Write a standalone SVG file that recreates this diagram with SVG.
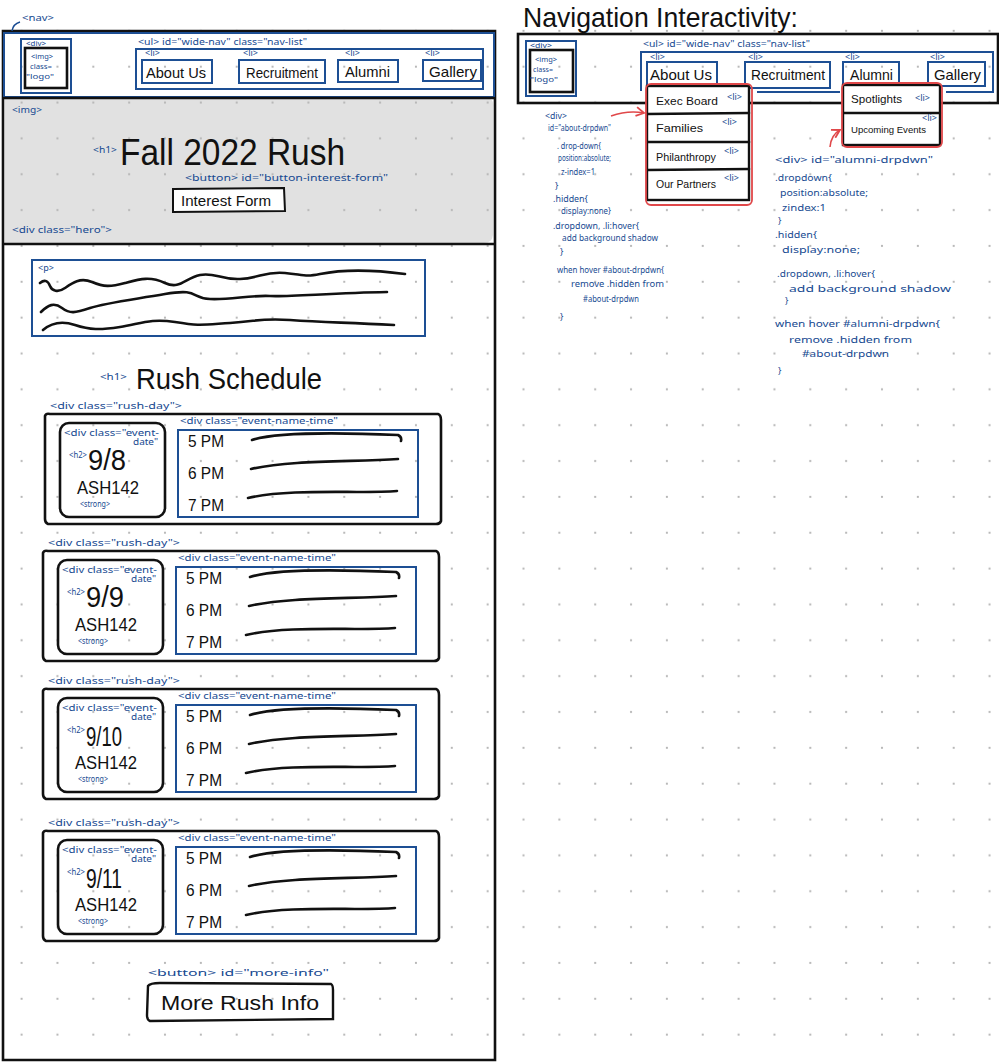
<svg xmlns="http://www.w3.org/2000/svg" width="999" height="1062" viewBox="0 0 999 1062">
<defs>
<pattern id="dots" x="3.7" y="13" width="35.85" height="35.85" patternUnits="userSpaceOnUse">
<circle cx="17.9" cy="17.9" r="1.1" fill="#b4b4b4"/>
</pattern>
<marker id="redhead" viewBox="0 0 10 10" refX="8" refY="5" markerWidth="7" markerHeight="7" orient="auto">
<path d="M1,1 L8,5 L1,9" fill="none" stroke="#e0484a" stroke-width="1.6"/>
</marker>
<style>
.bl{fill:#174a91;font-family:"Noto Sans","DejaVu Sans",sans-serif;font-size:9px;}
.lg{fill:#174a91;font-family:"Noto Sans","DejaVu Sans",sans-serif;font-size:7px;}
.hw{fill:#111;font-family:"Liberation Sans","DejaVu Sans",sans-serif;}
.bb{fill:none;stroke:#1d4f94;stroke-width:2;}
.kb{fill:none;stroke:#111;stroke-width:2.6;}
.kl{fill:none;stroke:#111;stroke-width:2.6;stroke-linecap:round;}
.rd{fill:none;stroke:#e0484a;stroke-width:1.8;}
</style>
</defs>
<rect width="999" height="1062" fill="#ffffff"/>
<path d="M5,99 L490,99 Q494,100 493,108 L493,235 Q492,243 484,243 L5,243 Z" fill="#e1e1e1"/>
<rect width="999" height="1062" fill="url(#dots)"/>

<g id="page">
<path class="kb" d="M3,31 L495,31 L495,1060 L3,1060 Z"/>
<path d="M12,31 Q13,24 20,22" fill="none" stroke="#174a91" stroke-width="1.5"/>
<text class="bl" x="22" y="21" font-size="11" textLength="32" lengthAdjust="spacingAndGlyphs">&lt;nav&gt;</text>
</g>

<g id="nav">
<rect class="bb" x="4" y="33" width="490" height="64"/>
<rect class="bb" x="21" y="39" width="50" height="54"/>
<rect class="kb" x="25" y="48" width="42" height="40"/>
<text class="lg" x="26" y="46" textLength="20" lengthAdjust="spacingAndGlyphs">&lt;div&gt;</text>
<text class="lg" x="31" y="59" textLength="22" lengthAdjust="spacingAndGlyphs">&lt;img&gt;</text>
<text class="lg" x="30" y="69" textLength="22" lengthAdjust="spacingAndGlyphs">class=</text>
<text class="lg" x="26" y="79" textLength="28" lengthAdjust="spacingAndGlyphs">"logo"</text>
<text class="bl" x="138" y="45" textLength="169" lengthAdjust="spacingAndGlyphs">&lt;ul&gt; id="wide-nav" class="nav-list"</text>
<rect class="bb" x="136" y="49" width="347" height="40"/>
<text class="bl" x="145" y="56" font-size="8">&lt;li&gt;</text>
<rect class="bb" x="142" y="60" width="70" height="23"/>
<text class="hw" x="146" y="78" font-size="15" textLength="60" lengthAdjust="spacingAndGlyphs">About Us</text>
<text class="bl" x="243" y="56" font-size="8">&lt;li&gt;</text>
<rect class="bb" x="239" y="60" width="86" height="23"/>
<text class="hw" x="246" y="78" font-size="14" textLength="72" lengthAdjust="spacingAndGlyphs">Recruitment</text>
<text class="bl" x="345" y="56" font-size="8">&lt;li&gt;</text>
<rect class="bb" x="338" y="60" width="60" height="22"/>
<text class="hw" x="345" y="77" font-size="15" textLength="45" lengthAdjust="spacingAndGlyphs">Alumni</text>
<text class="bl" x="425" y="56" font-size="8">&lt;li&gt;</text>
<rect class="bb" x="423" y="60" width="58" height="21"/>
<text class="hw" x="429" y="77" font-size="15" textLength="48" lengthAdjust="spacingAndGlyphs">Gallery</text>
</g>

<g id="hero">
<line class="kl" x1="4" y1="98" x2="494" y2="98"/>
<line class="kl" x1="4" y1="244" x2="494" y2="244"/>
<text class="bl" x="12" y="113" font-size="10" textLength="30" lengthAdjust="spacingAndGlyphs">&lt;img&gt;</text>
<text class="bl" x="93" y="153" font-size="9" textLength="24" lengthAdjust="spacingAndGlyphs">&lt;h1&gt;</text>
<text class="hw" x="120" y="165" font-size="36" textLength="225" lengthAdjust="spacingAndGlyphs">Fall 2022 Rush</text>
<text class="bl" x="185" y="181" font-size="10" textLength="203" lengthAdjust="spacingAndGlyphs">&lt;button&gt; id="button-interest-form"</text>
<path d="M173,189 L284,188 L285,211 L173,212 Z" fill="#ffffff" stroke="#111" stroke-width="2"/>
<text class="hw" x="181" y="206" font-size="14" textLength="90" lengthAdjust="spacingAndGlyphs">Interest Form</text>
<text class="bl" x="12" y="233" font-size="10" textLength="100" lengthAdjust="spacingAndGlyphs">&lt;div class="hero"&gt;</text>
</g>

<g id="paragraph">
<rect class="bb" x="32" y="260" width="393" height="76"/>
<text class="bl" x="38" y="271" font-size="9">&lt;p&gt;</text>
<path class="kl" d="M40,283 C45,279 48,281 50,286 S 58,293 65,288 S 80,277 92,282 S 110,287 125,283 S 150,276 165,283 S 185,278 200,275 S 220,280 240,279 S 265,271 285,273 S 305,277 320,274 S 360,268 405,274"/>
<path class="kl" d="M41,312 C48,305 54,302 62,308 S 75,313 90,308 S 130,300 165,294 S 190,298 210,299 S 250,295 270,296 S 330,293 387,292"/>
<path class="kl" d="M43,330 C50,324 60,320 75,325 S 100,330 120,327 S 150,318 175,322 S 200,325 230,323 S 260,318 290,320 S 330,322 394,325"/>
</g>

<g id="schedule-title">
<text class="bl" x="100" y="380" font-size="10" textLength="27" lengthAdjust="spacingAndGlyphs">&lt;h1&gt;</text>
<text class="hw" x="136" y="389" font-size="30" textLength="186" lengthAdjust="spacingAndGlyphs">Rush Schedule</text>
</g>

<g id="rush-day-1">
<text class="bl" x="50" y="409" font-size="10" textLength="132" lengthAdjust="spacingAndGlyphs">&lt;div class="rush-day"&gt;</text>
<path class="kb" d="M45,416 Q46,413 50,414 L438,414 Q441,415 441,420 L441,521 Q440,524 436,524 L48,524 Q45,523 45,519 Z"/>
<rect class="kb" x="60" y="423" width="105" height="94" rx="9"/>
<text class="bl" x="64" y="436" font-size="8.5" textLength="95" lengthAdjust="spacingAndGlyphs">&lt;div class="event-</text>
<text class="bl" x="133" y="445" font-size="8" textLength="25" lengthAdjust="spacingAndGlyphs">date"</text>
<text class="bl" x="69" y="458" font-size="8" textLength="18" lengthAdjust="spacingAndGlyphs">&lt;h2&gt;</text>
<text class="hw" x="88" y="470" font-size="29" textLength="38" lengthAdjust="spacingAndGlyphs">9/8</text>
<text class="hw" x="77" y="494" font-size="19" textLength="62" lengthAdjust="spacingAndGlyphs">ASH142</text>
<text class="bl" x="80" y="507" font-size="8" textLength="30" lengthAdjust="spacingAndGlyphs">&lt;strong&gt;</text>
<text class="bl" x="180" y="424" font-size="9" textLength="158" lengthAdjust="spacingAndGlyphs">&lt;div class="event-name-time"</text>
<rect class="bb" x="178" y="430" width="240" height="87"/>
<text class="hw" x="188" y="447" font-size="16" textLength="36" lengthAdjust="spacingAndGlyphs">5 PM</text>
<text class="hw" x="188" y="479" font-size="16" textLength="36" lengthAdjust="spacingAndGlyphs">6 PM</text>
<text class="hw" x="188" y="511" font-size="16" textLength="36" lengthAdjust="spacingAndGlyphs">7 PM</text>
<path class="kl" d="M252,440 C280,431 350,433 398,435 Q402,437 401,441"/>
<path class="kl" d="M251,469 C290,460 350,462 398,459"/>
<path class="kl" d="M248,498 C290,488 360,494 397,491"/>
</g>

<g id="rush-day-2" transform="translate(-2,137)">
<text class="bl" x="50" y="409" font-size="10" textLength="132" lengthAdjust="spacingAndGlyphs">&lt;div class="rush-day"&gt;</text>
<path class="kb" d="M45,416 Q46,413 50,414 L438,414 Q441,415 441,420 L441,521 Q440,524 436,524 L48,524 Q45,523 45,519 Z"/>
<rect class="kb" x="60" y="423" width="105" height="94" rx="9"/>
<text class="bl" x="64" y="436" font-size="8.5" textLength="95" lengthAdjust="spacingAndGlyphs">&lt;div class="event-</text>
<text class="bl" x="133" y="445" font-size="8" textLength="25" lengthAdjust="spacingAndGlyphs">date"</text>
<text class="bl" x="69" y="458" font-size="8" textLength="18" lengthAdjust="spacingAndGlyphs">&lt;h2&gt;</text>
<text class="hw" x="88" y="470" font-size="29" textLength="38" lengthAdjust="spacingAndGlyphs">9/9</text>
<text class="hw" x="77" y="494" font-size="19" textLength="62" lengthAdjust="spacingAndGlyphs">ASH142</text>
<text class="bl" x="80" y="507" font-size="8" textLength="30" lengthAdjust="spacingAndGlyphs">&lt;strong&gt;</text>
<text class="bl" x="180" y="424" font-size="9" textLength="158" lengthAdjust="spacingAndGlyphs">&lt;div class="event-name-time"</text>
<rect class="bb" x="178" y="430" width="240" height="87"/>
<text class="hw" x="188" y="447" font-size="16" textLength="36" lengthAdjust="spacingAndGlyphs">5 PM</text>
<text class="hw" x="188" y="479" font-size="16" textLength="36" lengthAdjust="spacingAndGlyphs">6 PM</text>
<text class="hw" x="188" y="511" font-size="16" textLength="36" lengthAdjust="spacingAndGlyphs">7 PM</text>
<path class="kl" d="M252,440 C280,431 350,433 398,435 Q402,437 401,441"/>
<path class="kl" d="M251,469 C290,460 350,462 398,459"/>
<path class="kl" d="M248,498 C290,488 360,494 397,491"/>
</g>

<g id="rush-day-3" transform="translate(-2,275)">
<text class="bl" x="50" y="409" font-size="10" textLength="132" lengthAdjust="spacingAndGlyphs">&lt;div class="rush-day"&gt;</text>
<path class="kb" d="M45,416 Q46,413 50,414 L438,414 Q441,415 441,420 L441,521 Q440,524 436,524 L48,524 Q45,523 45,519 Z"/>
<rect class="kb" x="60" y="423" width="105" height="94" rx="9"/>
<text class="bl" x="64" y="436" font-size="8.5" textLength="95" lengthAdjust="spacingAndGlyphs">&lt;div class="event-</text>
<text class="bl" x="133" y="445" font-size="8" textLength="25" lengthAdjust="spacingAndGlyphs">date"</text>
<text class="bl" x="69" y="458" font-size="8" textLength="18" lengthAdjust="spacingAndGlyphs">&lt;h2&gt;</text>
<text class="hw" x="88" y="471" font-size="28" textLength="36" lengthAdjust="spacingAndGlyphs">9/10</text>
<text class="hw" x="77" y="494" font-size="19" textLength="62" lengthAdjust="spacingAndGlyphs">ASH142</text>
<text class="bl" x="80" y="507" font-size="8" textLength="30" lengthAdjust="spacingAndGlyphs">&lt;strong&gt;</text>
<text class="bl" x="180" y="424" font-size="9" textLength="158" lengthAdjust="spacingAndGlyphs">&lt;div class="event-name-time"</text>
<rect class="bb" x="178" y="430" width="240" height="87"/>
<text class="hw" x="188" y="447" font-size="16" textLength="36" lengthAdjust="spacingAndGlyphs">5 PM</text>
<text class="hw" x="188" y="479" font-size="16" textLength="36" lengthAdjust="spacingAndGlyphs">6 PM</text>
<text class="hw" x="188" y="511" font-size="16" textLength="36" lengthAdjust="spacingAndGlyphs">7 PM</text>
<path class="kl" d="M252,440 C280,431 350,433 398,435 Q402,437 401,441"/>
<path class="kl" d="M251,469 C290,460 350,462 398,459"/>
<path class="kl" d="M248,498 C290,488 360,494 397,491"/>
</g>

<g id="rush-day-4" transform="translate(-2,417)">
<text class="bl" x="50" y="409" font-size="10" textLength="132" lengthAdjust="spacingAndGlyphs">&lt;div class="rush-day"&gt;</text>
<path class="kb" d="M45,416 Q46,413 50,414 L438,414 Q441,415 441,420 L441,521 Q440,524 436,524 L48,524 Q45,523 45,519 Z"/>
<rect class="kb" x="60" y="423" width="105" height="94" rx="9"/>
<text class="bl" x="64" y="436" font-size="8.5" textLength="95" lengthAdjust="spacingAndGlyphs">&lt;div class="event-</text>
<text class="bl" x="133" y="445" font-size="8" textLength="25" lengthAdjust="spacingAndGlyphs">date"</text>
<text class="bl" x="69" y="458" font-size="8" textLength="18" lengthAdjust="spacingAndGlyphs">&lt;h2&gt;</text>
<text class="hw" x="88" y="471" font-size="28" textLength="36" lengthAdjust="spacingAndGlyphs">9/11</text>
<text class="hw" x="77" y="494" font-size="19" textLength="62" lengthAdjust="spacingAndGlyphs">ASH142</text>
<text class="bl" x="80" y="507" font-size="8" textLength="30" lengthAdjust="spacingAndGlyphs">&lt;strong&gt;</text>
<text class="bl" x="180" y="424" font-size="9" textLength="158" lengthAdjust="spacingAndGlyphs">&lt;div class="event-name-time"</text>
<rect class="bb" x="178" y="430" width="240" height="87"/>
<text class="hw" x="188" y="447" font-size="16" textLength="36" lengthAdjust="spacingAndGlyphs">5 PM</text>
<text class="hw" x="188" y="479" font-size="16" textLength="36" lengthAdjust="spacingAndGlyphs">6 PM</text>
<text class="hw" x="188" y="511" font-size="16" textLength="36" lengthAdjust="spacingAndGlyphs">7 PM</text>
<path class="kl" d="M252,440 C280,431 350,433 398,435 Q402,437 401,441"/>
<path class="kl" d="M251,469 C290,460 350,462 398,459"/>
<path class="kl" d="M248,498 C290,488 360,494 397,491"/>
</g>

<g id="more-info">
<text class="bl" x="148" y="976" font-size="11" textLength="181" lengthAdjust="spacingAndGlyphs">&lt;button&gt; id="more-info"</text>
<path d="M148,986 Q150,983 160,983 L331,984 Q333,985 333,990 L333,1019 L150,1021 Q147,1020 147,1015 Z" fill="none" stroke="#111" stroke-width="2.4"/>
<text class="hw" x="161" y="1010" font-size="21" textLength="158" lengthAdjust="spacingAndGlyphs">More Rush Info</text>
</g>

<g id="nav-interactivity">
<text class="hw" x="523" y="27" font-size="28" textLength="275" lengthAdjust="spacingAndGlyphs">Navigation Interactivity:</text>
<rect class="kb" x="518" y="34" width="480" height="69"/>
<rect class="bb" x="526" y="41" width="50" height="55"/>
<rect class="kb" x="530" y="50" width="43" height="42"/>
<text class="lg" x="530" y="48" textLength="22" lengthAdjust="spacingAndGlyphs">&lt;div&gt;</text>
<text class="lg" x="535" y="62" textLength="22" lengthAdjust="spacingAndGlyphs">&lt;img&gt;</text>
<text class="lg" x="533" y="72" textLength="20" lengthAdjust="spacingAndGlyphs">class=</text>
<text class="lg" x="530" y="82" textLength="28" lengthAdjust="spacingAndGlyphs">"logo"</text>
<text class="bl" x="643" y="47" textLength="167" lengthAdjust="spacingAndGlyphs">&lt;ul&gt; id="wide-nav" class="nav-list"</text>
<path class="bb" d="M641,91 L641,52 L993,52 L993,92 L946,92"/>
<line class="bb" x1="757" y1="92" x2="840" y2="92"/>
<text class="bl" x="650" y="60" font-size="8">&lt;li&gt;</text>
<rect class="bb" x="647" y="62" width="70" height="25"/>
<text class="hw" x="650" y="80" font-size="15" textLength="62" lengthAdjust="spacingAndGlyphs">About Us</text>
<text class="bl" x="748" y="60" font-size="8">&lt;li&gt;</text>
<rect class="bb" x="745" y="62" width="85" height="26"/>
<text class="hw" x="751" y="80" font-size="14" textLength="74" lengthAdjust="spacingAndGlyphs">Recruitment</text>
<text class="bl" x="845" y="60" font-size="8">&lt;li&gt;</text>
<rect class="bb" x="843" y="62" width="56" height="25"/>
<text class="hw" x="850" y="80" font-size="15" textLength="43" lengthAdjust="spacingAndGlyphs">Alumni</text>
<text class="bl" x="930" y="60" font-size="8">&lt;li&gt;</text>
<rect class="bb" x="928" y="62" width="57" height="24"/>
<text class="hw" x="934" y="80" font-size="15" textLength="47" lengthAdjust="spacingAndGlyphs">Gallery</text>
</g>

<g id="about-dropdown">
<rect x="647" y="86" width="102" height="114" fill="#ffffff" stroke="#111" stroke-width="2.4"/>
<line class="kl" x1="647" y1="114" x2="749" y2="113"/>
<line class="kl" x1="647" y1="142" x2="749" y2="142"/>
<line class="kl" x1="647" y1="170" x2="749" y2="169"/>
<rect class="rd" x="646" y="84" width="106" height="121" rx="5"/>
<text class="hw" x="656" y="105" font-size="11" textLength="62" lengthAdjust="spacingAndGlyphs">Exec Board</text>
<text class="bl" x="727" y="100" font-size="9">&lt;li&gt;</text>
<text class="hw" x="656" y="132" font-size="11" textLength="47" lengthAdjust="spacingAndGlyphs">Families</text>
<text class="bl" x="722" y="125" font-size="9">&lt;li&gt;</text>
<text class="hw" x="656" y="161" font-size="11" textLength="60" lengthAdjust="spacingAndGlyphs">Philanthropy</text>
<text class="bl" x="724" y="154" font-size="9">&lt;li&gt;</text>
<text class="hw" x="656" y="188" font-size="10" textLength="60" lengthAdjust="spacingAndGlyphs">Our Partners</text>
<text class="bl" x="724" y="181" font-size="9">&lt;li&gt;</text>
</g>

<g id="alumni-dropdown">
<rect x="843" y="85" width="97" height="60" fill="#ffffff" stroke="#111" stroke-width="2.4"/>
<line class="kl" x1="843" y1="113" x2="940" y2="113"/>
<rect class="rd" x="842" y="83" width="100" height="64" rx="5"/>
<text class="hw" x="851" y="103" font-size="11" textLength="51" lengthAdjust="spacingAndGlyphs">Spotlights</text>
<text class="bl" x="915" y="101" font-size="9">&lt;li&gt;</text>
<text class="hw" x="851" y="133" font-size="9.5" textLength="75" lengthAdjust="spacingAndGlyphs">Upcoming Events</text>
<text class="bl" x="922" y="121" font-size="7">&lt;li&gt;</text>
</g>

<g id="connectors">
<path d="M611,116 Q628,110 644,113" fill="none" stroke="#e0484a" stroke-width="1.6" marker-end="url(#redhead)"/>
<path d="M830,147 Q831,135 840,130" fill="none" stroke="#e0484a" stroke-width="1.6" marker-end="url(#redhead)"/>
</g>

<g id="about-notes" class="bl" font-size="11">
<text x="545" y="119" textLength="22" lengthAdjust="spacingAndGlyphs">&lt;div&gt;</text>
<text x="548" y="131" textLength="63" lengthAdjust="spacingAndGlyphs">id="about-drpdwn"</text>
<text x="557" y="149" textLength="44" lengthAdjust="spacingAndGlyphs">. drop-down{</text>
<text x="558" y="161" textLength="53" lengthAdjust="spacingAndGlyphs">position:absolute;</text>
<text x="561" y="175" textLength="34" lengthAdjust="spacingAndGlyphs">z-index=1</text>
<text x="555" y="189">}</text>
<text x="553" y="202" textLength="35" lengthAdjust="spacingAndGlyphs">.hidden{</text>
<text x="561" y="214" textLength="50" lengthAdjust="spacingAndGlyphs">display:none}</text>
<text x="553" y="229" textLength="86" lengthAdjust="spacingAndGlyphs">.dropdown, .li:hover{</text>
<text x="562" y="241" textLength="96" lengthAdjust="spacingAndGlyphs">add background shadow</text>
<text x="560" y="255">}</text>
<text x="557" y="273" textLength="107" lengthAdjust="spacingAndGlyphs">when hover #about-drpdwn{</text>
<text x="571" y="287" textLength="93" lengthAdjust="spacingAndGlyphs">remove .hidden from</text>
<text x="583" y="302" textLength="56" lengthAdjust="spacingAndGlyphs">#about-drpdwn</text>
<text x="560" y="320">}</text>
</g>

<g id="alumni-notes" class="bl" font-size="12">
<text x="775" y="163" textLength="158" lengthAdjust="spacingAndGlyphs">&lt;div&gt; id="alumni-drpdwn"</text>
<text x="775" y="181" textLength="57" lengthAdjust="spacingAndGlyphs">.dropdown{</text>
<text x="780" y="196" textLength="88" lengthAdjust="spacingAndGlyphs">position:absolute;</text>
<text x="782" y="211" textLength="44" lengthAdjust="spacingAndGlyphs">zindex:1</text>
<text x="778" y="224">}</text>
<text x="775" y="238" textLength="42" lengthAdjust="spacingAndGlyphs">.hidden{</text>
<text x="782" y="253" textLength="78" lengthAdjust="spacingAndGlyphs">display:none;</text>
<text x="777" y="277" textLength="98" lengthAdjust="spacingAndGlyphs">.dropdown, .li:hover{</text>
<text x="789" y="292" textLength="162" lengthAdjust="spacingAndGlyphs">add background shadow</text>
<text x="785" y="304">}</text>
<text x="775" y="327" textLength="165" lengthAdjust="spacingAndGlyphs">when hover #alumni-drpdwn{</text>
<text x="789" y="343" textLength="123" lengthAdjust="spacingAndGlyphs">remove .hidden from</text>
<text x="802" y="357" textLength="87" lengthAdjust="spacingAndGlyphs">#about-drpdwn</text>
<text x="778" y="374">}</text>
</g>
</svg>
